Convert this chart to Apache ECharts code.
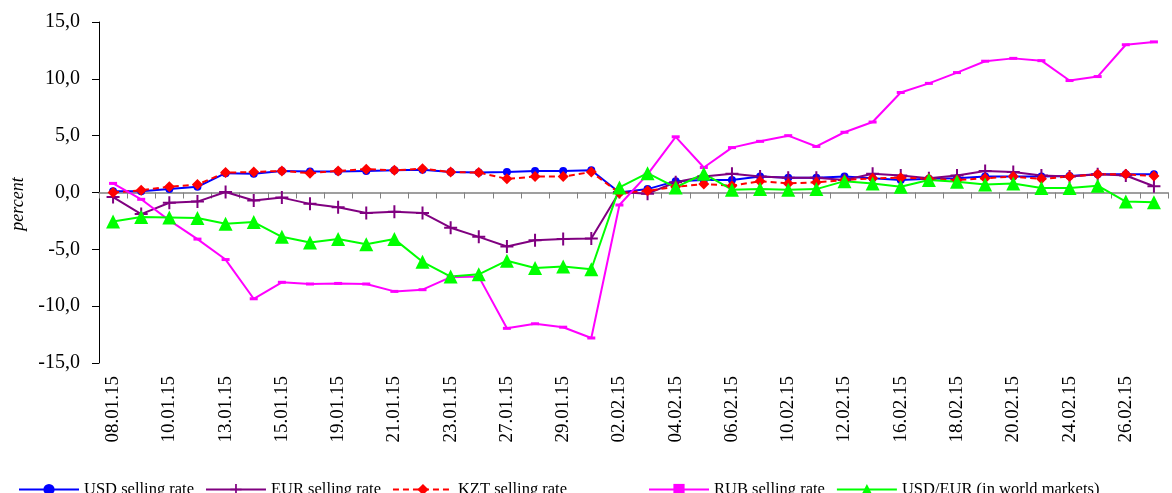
<!DOCTYPE html>
<html>
<head>
<meta charset="utf-8">
<script src="https://cdn.jsdelivr.net/npm/echarts@6/dist/echarts.min.js"></script>
<style>
  html, body { margin: 0; padding: 0; background: #fff; }
  #chart { width: 1172px; height: 493px; }
</style>
</head>
<body>
<div id="chart"></div>
<script>
const dates = ['08.01.15', '09.01.15', '10.01.15', '12.01.15', '13.01.15', '14.01.15', '15.01.15', '16.01.15',
  '19.01.15', '20.01.15', '21.01.15', '22.01.15', '23.01.15', '26.01.15', '27.01.15', '28.01.15', '29.01.15',
  '30.01.15', '02.02.15', '03.02.15', '04.02.15', '05.02.15', '06.02.15', '09.02.15', '10.02.15', '11.02.15',
  '12.02.15', '13.02.15', '16.02.15', '17.02.15', '18.02.15', '19.02.15', '20.02.15', '23.02.15', '24.02.15',
  '25.02.15', '26.02.15', '27.02.15'];

const usd = [0.1, 0.1, 0.3, 0.5, 1.7, 1.65, 1.9, 1.85, 1.85, 1.9, 1.95, 2.0, 1.8, 1.75, 1.8, 1.9, 1.9, 1.95,
  0.0, 0.3, 1.0, 1.1, 1.1, 1.4, 1.3, 1.3, 1.4, 1.25, 1.1, 1.2, 1.25, 1.4, 1.4, 1.4, 1.45, 1.6, 1.6, 1.6];
const eur = [-0.4, -1.9, -0.9, -0.8, 0.05, -0.7, -0.45, -1.0, -1.3, -1.8, -1.7, -1.8, -3.1, -3.9, -4.75, -4.2, -4.1, -4.05,
  0.05, -0.1, 0.9, 1.4, 1.65, 1.4, 1.3, 1.3, 1.1, 1.65, 1.5, 1.25, 1.5, 1.9, 1.8, 1.5, 1.4, 1.6, 1.5, 0.55];
const kzt = [0.0, 0.2, 0.5, 0.7, 1.75, 1.8, 1.9, 1.7, 1.9, 2.05, 1.95, 2.1, 1.8, 1.75, 1.2, 1.4, 1.4, 1.8,
  -0.05, 0.15, 0.5, 0.75, 0.6, 1.0, 0.8, 0.9, 1.1, 1.25, 1.3, 1.2, 1.1, 1.25, 1.4, 1.2, 1.4, 1.6, 1.6, 1.45];
const rub = [0.8, -0.6, -2.45, -4.1, -5.9, -9.35, -7.9, -8.05, -8.0, -8.05, -8.7, -8.55, -7.45, -7.4, -11.95, -11.55, -11.85, -12.8,
  -1.1, 1.6, 4.9, 2.2, 3.95, 4.5, 5.0, 4.05, 5.3, 6.2, 8.8, 9.6, 10.55, 11.55, 11.8, 11.6, 9.85, 10.2, 13.0, 13.25];
const usdEur = [-2.55, -2.15, -2.2, -2.25, -2.75, -2.6, -3.9, -4.4, -4.1, -4.55, -4.1, -6.1, -7.4, -7.2, -6.0, -6.65, -6.5, -6.75,
  0.45, 1.7, 0.45, 1.65, 0.25, 0.3, 0.25, 0.3, 1.0, 0.8, 0.5, 1.1, 0.95, 0.7, 0.8, 0.4, 0.4, 0.6, -0.8, -0.85];

const seriesNames = ['USD selling rate', 'EUR selling rate', 'KZT selling rate', 'RUB selling rate', 'USD/EUR (in world markets)'];

const font = "'Liberation Serif', 'Times New Roman', serif";
const plusPath = 'path://M5.5,0H7.5V5.5H13V7.5H7.5V13H5.5V7.5H0V5.5H5.5Z';

const chart = echarts.init(document.getElementById('chart'), null, { renderer: 'canvas' });

function line(name, data, color, symbol, symbolSize, extra) {
  return Object.assign({
    name,
    type: 'line',
    xAxisIndex: 0,
    data,
    symbol,
    symbolSize,
    showAllSymbol: true,
    lineStyle: { color, width: 2 },
    itemStyle: { color },
    emphasis: { disabled: true },
    animation: false
  }, extra || {});
}

function legendAt(left, names) {
  return {
    left,
    top: 476,
    padding: 5,
    itemWidth: 60,
    itemHeight: 14,
    itemGap: 11,
    textStyle: { fontFamily: font, fontSize: 16.5, color: '#000' },
    data: names
  };
}

chart.setOption({
  backgroundColor: '#ffffff',
  textStyle: { fontFamily: font, color: '#000' },
  grid: { left: 99, right: 4, top: 22, bottom: 130 },
  legend: [
    legendAt(13, seriesNames.slice(0, 3)),
    legendAt(643, seriesNames.slice(3))
  ],
  xAxis: [
    {
      type: 'category',
      data: dates,
      boundaryGap: true,
      axisLine: { onZero: true, lineStyle: { color: '#808080', width: 1.5 } },
      axisTick: { show: true, interval: 0, length: 6, lineStyle: { color: '#808080' } },
      axisLabel: { show: false },
      splitLine: { show: false }
    },
    {
      type: 'category',
      data: dates,
      position: 'bottom',
      boundaryGap: true,
      axisLine: { show: false, onZero: false },
      axisTick: { show: false },
      axisLabel: {
        interval: 1,
        rotate: 90,
        margin: 13,
        fontFamily: font,
        fontSize: 19,
        color: '#000'
      },
      splitLine: { show: false }
    }
  ],
  yAxis: {
    type: 'value',
    min: -15,
    max: 15,
    interval: 5,
    name: 'percent',
    nameLocation: 'middle',
    nameGap: 63,
    nameTextStyle: { fontFamily: font, fontSize: 18, fontStyle: 'italic', color: '#000', padding: [0, 23, 0, 0] },
    axisLine: { show: true, lineStyle: { color: '#000', width: 1 } },
    axisTick: { show: true, length: 7, lineStyle: { color: '#000' } },
    axisLabel: {
      margin: 19,
      fontFamily: font,
      fontSize: 20,
      color: '#000',
      formatter: (v) => v.toFixed(1).replace('.', ',')
    },
    splitLine: { show: false }
  },
  series: [
    line(seriesNames[0], usd, '#0000ff', 'circle', 8),
    line(seriesNames[1], eur, '#800080', plusPath, 13),
    line(seriesNames[2], kzt, '#ff0000', 'diamond', 11, { lineStyle: { color: '#ff0000', width: 2, type: [6, 4] } }),
    line(seriesNames[3], rub, '#ff00ff', 'rect', [8, 3]),
    line(seriesNames[4], usdEur, '#00ff00', 'triangle', 14)
  ]
});
</script>
</body>
</html>
